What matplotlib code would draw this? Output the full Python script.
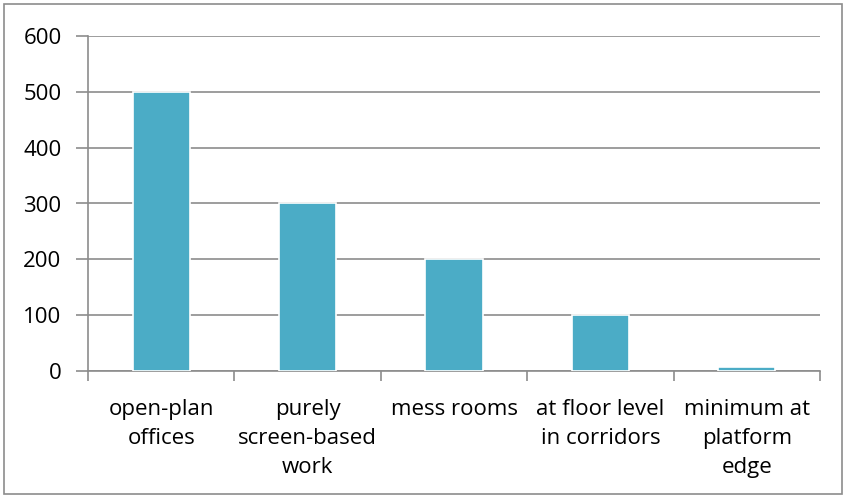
import matplotlib
matplotlib.use("Agg")
import matplotlib.pyplot as plt
from matplotlib.patches import Rectangle

categories = ["open-plan\noffices", "purely\nscreen-based\nwork", "mess rooms",
              "at floor level\nin corridors", "minimum at\nplatform\nedge"]
values = [500, 300, 200, 100, 8]
yticks = [0, 100, 200, 300, 400, 500, 600]

plt.rcParams['font.family'] = ['Open Sans', 'DejaVu Sans']
W, H = 846, 498
fig = plt.figure(figsize=(W/100, H/100), dpi=100)
ax = fig.add_axes([88/W, 1-371/H, (820-88)/W, (371-36)/H])

x = list(range(len(values)))
ax.bar(x, values, width=0.39, color="#4BACC6", edgecolor="white", linewidth=1.2, zorder=3)
ax.set_xlim(-0.5, len(values)-0.5)
ax.set_ylim(0, 600)
ax.set_yticks(yticks)
ax.set_yticklabels([str(v) for v in yticks], fontsize=16)
ax.grid(axis='y', color="#8c8c8c", linewidth=1.2, zorder=0)
for s in ['top', 'right']:
    ax.spines[s].set_visible(False)
for s in ['left', 'bottom']:
    ax.spines[s].set_color("#8c8c8c")
    ax.spines[s].set_linewidth(1.2)
ax.tick_params(axis='y', length=9, width=1.2, color="#8c8c8c", pad=10)
ax.set_xticks([i - 0.5 for i in range(len(values)+1)])
ax.set_xticklabels([])
ax.tick_params(axis='x', length=7, width=1.2, color="#8c8c8c")
for i, c in enumerate(categories):
    ax.text(i, -0.085, c, transform=ax.get_xaxis_transform(), ha='center', va='top',
            fontsize=16, linespacing=1.5)

fig.patches.append(Rectangle((4/W, 4/H), (W-8)/W, (H-8)/H, transform=fig.transFigure,
                             fill=False, edgecolor="#8c8c8c", linewidth=1.2))
fig.savefig("out.png", dpi=100)
